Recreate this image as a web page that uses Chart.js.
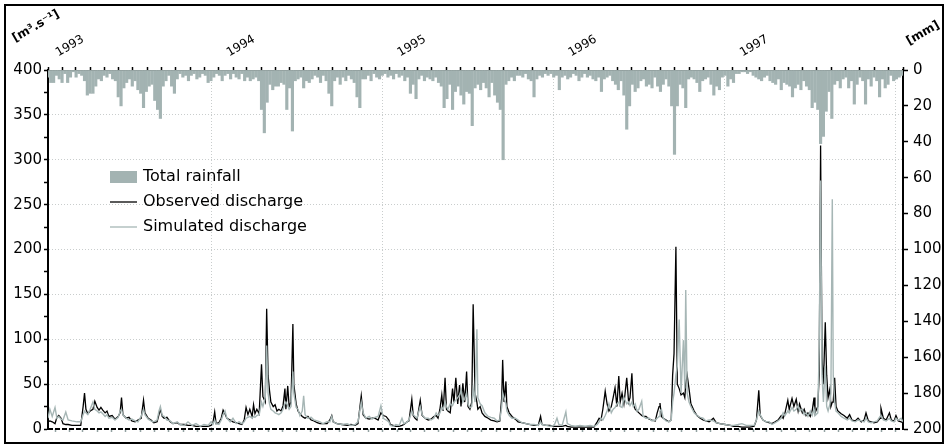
<!DOCTYPE html>
<html>
<head>
<meta charset="utf-8">
<title>Rainfall and discharge 1993-1997</title>
<script src="https://cdn.jsdelivr.net/npm/chart.js@4.4.1/dist/chart.umd.min.js"></script>
<style>
  html, body { margin: 0; padding: 0; background: #fff; }
  #wrap { position: relative; width: 945px; height: 444px; }
  #frame { position: absolute; left: 4px; top: 4px; width: 940px; height: 440px;
           box-sizing: border-box; border: 2px solid #000; pointer-events: none; }
</style>
</head>
<body>
<div id="wrap">
  <canvas id="chart" width="945" height="444"></canvas>
  <div id="frame"></div>
</div>
<script>
// days are counted from 1993-01-01
const DAY_MAX = 1826;
const yearStarts = [0, 365, 730, 1095, 1461, 1826];
const yearLabels = ["1993", "1994", "1995", "1996", "1997"];

// rainfall totals [mm], one value every RAIN_STEP days
const RAIN_STEP = 6;
const rainfall = [
    4, 7, 7, 3, 5, 7, 2, 7, 4, 1, 4, 2, 3, 6, 14, 13, 13, 9, 5, 6,
    3, 4, 2, 5, 6, 15, 20, 10, 7, 5, 9, 6, 11, 13, 21, 12, 9, 8, 17, 22,
    27, 9, 6, 3, 9, 13, 5, 2, 4, 3, 6, 3, 2, 5, 4, 2, 3, 7, 6, 4, 2,
    3, 6, 3, 2, 5, 2, 4, 5, 2, 6, 4, 6, 5, 4, 6, 22, 35, 18, 8,
    11, 9, 9, 7, 8, 22, 10, 34, 6, 5, 4, 10, 6, 7, 5, 3, 4, 7, 3, 6,
    13, 20, 6, 4, 8, 4, 6, 3, 5, 7, 15, 21, 5, 5, 3, 6, 2, 4, 5, 3, 2, 4,
    3, 5, 2, 4, 3, 6, 4, 13, 8, 16, 5, 3, 6, 4, 5, 6, 4, 7,
    9, 21, 16, 8, 22, 12, 9, 14, 19, 12, 13, 31, 10, 8, 11, 7, 10, 15, 7, 14,
    18, 22, 50, 8, 6, 4, 6, 3, 3, 4, 2, 5, 6, 15, 5, 3, 4, 2, 3, 2, 4, 3, 11,
    4, 3, 5, 4, 2, 3, 6, 4, 2, 4, 3, 5, 6, 4, 12, 5, 4,
    3, 6, 8, 11, 6, 14, 33, 20, 8, 12, 10, 6, 5, 9, 8, 10, 4, 9, 12, 8,
    5, 9, 20, 47, 20, 8, 10, 21, 5, 4, 5, 7, 12, 6, 5, 4, 8, 14, 9, 11, 4, 3, 9, 5,
    7, 2, 2, 1, 1, 2, 1, 3, 4, 5, 6, 4, 3, 6, 7, 8,
    5, 11, 7, 8, 9, 15, 10, 8, 11, 6, 9, 11, 21, 18, 22, 41, 37, 23, 12, 27,
    8, 6, 10, 5, 4, 10, 6, 19, 8, 4, 6, 19, 5, 9, 4, 6, 15, 5, 10, 8,
    3, 6, 5, 4, 3
];

// discharge [m3/s] at the listed days
const dischargeDays = [
    0, 4, 9, 15, 19, 23, 28, 32, 38, 43, 51, 62, 70, 75, 78, 81, 85, 90, 96, 100,
    105, 109, 113, 117, 122, 126, 130, 137, 143, 150, 154, 157, 160, 167, 173, 179, 186, 192, 199, 204,
    207, 214, 220, 226, 233, 237, 240, 244, 248, 254, 261, 267, 276, 282, 291, 299, 308, 316, 325, 333,
    342, 348, 352, 356, 359, 365,
    370, 374, 378, 382, 389, 395, 402, 408, 414, 419, 423, 427, 431, 436, 439, 442, 446, 451, 456, 459,
    464, 467, 470, 473, 476, 481, 485, 489, 493, 498, 502, 506, 508, 512, 515, 519, 523, 525, 530, 534,
    538, 543, 546, 549, 555, 562, 568, 575, 581, 587, 596, 602, 606, 609, 617, 628, 639, 647, 656, 662,
    669, 673, 679, 686, 692, 698, 705, 711, 716, 722, 728,
    731, 737, 743, 750, 756, 760, 767, 771, 777, 780, 784, 788, 795, 799, 805, 812, 818, 824, 829, 833,
    837, 841, 844, 848, 851, 854, 859, 864, 867, 871, 875, 879, 882, 886, 890, 894, 897, 901, 905, 908,
    912, 916, 918, 923, 927, 933, 940, 946, 953, 959, 965, 969, 971, 974, 978, 980, 985, 991, 998, 1004,
    1012, 1021, 1030, 1038, 1047, 1052, 1055, 1064, 1072, 1081, 1087, 1091, 1098,
    1106, 1109, 1117, 1126, 1136, 1147, 1158, 1166, 1173, 1177, 1181, 1185, 1190, 1194, 1198, 1203, 1207, 1211, 1215, 1219,
    1222, 1226, 1230, 1236, 1240, 1243, 1247, 1250, 1254, 1258, 1262, 1268, 1271, 1277, 1284, 1290, 1297, 1301, 1305, 1307,
    1310, 1314, 1320, 1326, 1331, 1334, 1337, 1341, 1344, 1348, 1352, 1357, 1360, 1362, 1365, 1369, 1373, 1380, 1386, 1393,
    1399, 1405, 1412, 1421, 1427, 1435, 1446, 1457,
    1465, 1474, 1482, 1491, 1499, 1508, 1513, 1518, 1521, 1527, 1534, 1540, 1546, 1553, 1559, 1566, 1570, 1574, 1580, 1583,
    1589, 1593, 1598, 1602, 1605, 1611, 1615, 1619, 1623, 1628, 1632, 1636, 1638, 1644, 1647, 1650, 1653, 1656, 1660, 1663,
    1666, 1670, 1672, 1675, 1677, 1680, 1683, 1687, 1694, 1700, 1707, 1712, 1717, 1724, 1730, 1737, 1743, 1747, 1752, 1758,
    1764, 1771, 1777, 1779, 1784, 1790, 1797, 1801, 1807, 1811, 1816, 1822, 1826
];
const observed = [
    8, 9, 8, 6, 13, 15, 12, 6, 5, 5, 4, 4, 4, 25, 40, 22, 17, 20, 22, 31,
    24, 21, 24, 21, 18, 20, 14, 15, 11, 14, 18, 35, 16, 12, 13, 9, 8, 10, 12, 32,
    18, 12, 10, 7, 8, 16, 22, 14, 12, 13, 8, 6, 7, 5, 5, 4, 4, 3, 3, 3,
    3, 4, 6, 19, 6, 7,
    12, 21, 17, 12, 10, 8, 7, 6, 5, 10, 24, 16, 22, 14, 27, 17, 22, 17, 72, 36,
    30, 134, 60, 43, 30, 25, 27, 20, 22, 20, 26, 45, 22, 48, 25, 30, 117, 50, 28, 20,
    17, 14, 13, 12, 14, 10, 9, 7, 6, 6, 6, 10, 15, 8, 6, 5, 4, 5, 4, 6,
    37, 16, 12, 11, 12, 12, 10, 18, 15, 14, 10,
    5, 4, 3, 3, 4, 5, 8, 9, 33, 15, 12, 10, 32, 15, 12, 10, 11, 14, 15, 12,
    22, 38, 20, 57, 22, 20, 18, 45, 30, 57, 28, 49, 25, 51, 30, 64, 25, 22, 30, 139,
    40, 30, 22, 25, 18, 14, 12, 10, 9, 8, 9, 35, 77, 30, 53, 25, 18, 14, 11, 8,
    7, 6, 5, 4, 4, 14, 5, 4, 4, 3, 3, 3, 3,
    4, 3, 2, 2, 2, 2, 2, 2, 8, 12, 10, 22, 42, 28, 20, 25, 35, 46, 25, 59,
    30, 40, 28, 57, 30, 35, 62, 28, 22, 20, 18, 15, 14, 14, 11, 10, 9, 18, 25, 29,
    14, 12, 10, 8, 10, 60, 84, 203, 50, 45, 38, 40, 35, 50, 60, 45, 28, 20, 15, 12,
    10, 9, 8, 12, 7, 6, 5, 4,
    3, 3, 2, 2, 2, 3, 10, 43, 15, 10, 8, 7, 6, 8, 10, 15, 12, 18, 32, 22,
    34, 25, 33, 20, 28, 18, 22, 15, 18, 14, 20, 35, 18, 25, 60, 316, 80, 50, 119, 60,
    35, 45, 25, 30, 30, 57, 25, 20, 17, 15, 12, 16, 10, 9, 12, 8, 10, 18, 9, 8,
    7, 8, 12, 23, 12, 10, 18, 10, 9, 15, 9, 8, 7
];
const simulated = [
    12, 22, 14, 24, 12, 14, 11, 10, 19, 10, 9, 8, 8, 16, 20, 18, 16, 22, 30, 22,
    20, 18, 19, 17, 14, 16, 12, 13, 10, 13, 20, 22, 16, 12, 10, 11, 9, 8, 14, 22,
    16, 11, 9, 8, 10, 20, 25, 15, 14, 10, 9, 6, 8, 5, 4, 8, 4, 6, 3, 5,
    4, 8, 5, 10, 6, 5,
    10, 16, 20, 12, 8, 12, 6, 8, 6, 8, 12, 13, 14, 12, 14, 13, 15, 16, 30, 25,
    35, 93, 40, 28, 22, 20, 18, 17, 16, 18, 22, 28, 30, 26, 22, 25, 64, 40, 24, 22,
    15, 20, 37, 16, 12, 13, 10, 9, 8, 6, 8, 8, 14, 8, 6, 5, 6, 4, 5, 8,
    30, 18, 12, 14, 11, 13, 14, 26, 12, 10, 8,
    4, 3, 5, 4, 12, 6, 8, 10, 20, 16, 14, 12, 25, 16, 12, 12, 10, 12, 18, 15,
    18, 24, 22, 30, 25, 22, 28, 26, 30, 32, 35, 38, 43, 30, 34, 40, 28, 24, 25, 45,
    30, 111, 35, 28, 26, 18, 14, 13, 12, 9, 10, 25, 40, 35, 28, 20, 15, 12, 12, 10,
    7, 6, 5, 5, 4, 8, 5, 4, 3, 4, 12, 5, 4,
    19, 6, 4, 3, 4, 3, 4, 3, 5, 8, 12, 10, 15, 20, 28, 18, 22, 24, 28, 30,
    25, 24, 35, 28, 30, 26, 30, 25, 28, 20, 22, 31, 14, 12, 12, 9, 10, 12, 14, 20,
    22, 12, 9, 8, 10, 30, 40, 60, 70, 122, 40, 99, 45, 155, 40, 30, 25, 18, 15, 13,
    12, 9, 10, 9, 7, 6, 5, 4,
    4, 5, 6, 4, 4, 4, 10, 20, 16, 10, 8, 8, 5, 7, 9, 12, 18, 15, 20, 18,
    24, 20, 22, 26, 20, 22, 16, 18, 14, 20, 15, 22, 15, 18, 90, 277, 60, 30, 70, 25,
    20, 28, 40, 256, 60, 30, 20, 18, 14, 12, 10, 12, 9, 8, 10, 9, 8, 12, 8, 7,
    8, 9, 14, 15, 10, 9, 12, 9, 8, 12, 10, 12, 8
];

const FONT = '"DejaVu Sans", Verdana, sans-serif';
const RAIN_COLOR = "#a3b3b2";
const SIM_COLOR = "#a6b6b5";
const GRID_COLOR = "#c9cdcd";
const LABEL_SHIFT = 34; // year labels start a little right of their gridline

Chart.defaults.font.family = FONT;
Chart.defaults.color = "#000";

// first day of every month, used for the small axis ticks
const monthTicks = [];
(function () {
    const t0 = Date.UTC(1993, 0, 1);
    for (let y = 1993; y <= 1997; y++) {
        for (let m = 0; m < 12; m++) {
            monthTicks.push(Math.round((Date.UTC(y, m, 1) - t0) / 864e5));
        }
    }
    monthTicks.push(DAY_MAX);
})();

const decorations = {
    id: "decorations",
    afterDraw(chart) {
        const {ctx, chartArea: a, scales} = chart;
        const y0 = scales.y.getPixelForValue(0);
        ctx.save();

        // dashed zero line
        ctx.strokeStyle = "#000";
        ctx.lineWidth = 2;
        ctx.setLineDash([5, 2]);
        ctx.beginPath();
        ctx.moveTo(a.left, y0);
        ctx.lineTo(a.right, y0);
        ctx.stroke();
        ctx.setLineDash([]);

        // legend inside the plot
        const lx = a.left + 62;
        const rows = [a.top + 107, a.top + 132, a.top + 157];
        ctx.font = "16px " + FONT;
        ctx.textBaseline = "middle";
        ctx.fillStyle = RAIN_COLOR;
        ctx.fillRect(lx, rows[0] - 6, 27, 12);
        ctx.lineWidth = 1.3;
        ctx.strokeStyle = "#000";
        ctx.beginPath();
        ctx.moveTo(lx, rows[1]);
        ctx.lineTo(lx + 27, rows[1]);
        ctx.stroke();
        ctx.strokeStyle = SIM_COLOR;
        ctx.beginPath();
        ctx.moveTo(lx, rows[2]);
        ctx.lineTo(lx + 27, rows[2]);
        ctx.stroke();
        ctx.fillStyle = "#000";
        ctx.fillText("Total rainfall", lx + 33, rows[0]);
        ctx.fillText("Observed discharge", lx + 33, rows[1]);
        ctx.fillText("Simulated discharge", lx + 33, rows[2]);

        // axis units, tilted like the year labels
        ctx.font = "bold 12px " + FONT;
        ctx.textBaseline = "alphabetic";
        const units = [
            ["[m\u00b3.s\u207b\u00b9]", a.left - 33, a.top - 28],
            ["[mm]", a.right + 6, a.top - 25],
        ];
        units.forEach(([text, x, y]) => {
            ctx.save();
            ctx.translate(x, y);
            ctx.rotate(-Math.PI / 6);
            ctx.fillText(text, 0, 0);
            ctx.restore();
        });
        ctx.restore();
    },
};

const rainPoints = rainfall.map((v, i) => ({x: i * RAIN_STEP, y: v}));
const obsPoints = dischargeDays.map((d, i) => ({x: d, y: observed[i]}));
const simPoints = dischargeDays.map((d, i) => ({x: d, y: simulated[i]}));

new Chart(document.getElementById("chart"), {
    type: "line",
    data: {
        datasets: [
            {
                label: "Simulated discharge",
                data: simPoints,
                borderColor: SIM_COLOR,
                borderWidth: 1.4,
                pointRadius: 0,
                tension: 0,
                xAxisID: "x",
                yAxisID: "y",
                order: 0,
            },
            {
                label: "Observed discharge",
                data: obsPoints,
                borderColor: "#000",
                borderWidth: 1.3,
                pointRadius: 0,
                tension: 0,
                xAxisID: "x",
                yAxisID: "y",
                order: 1,
            },
            {
                type: "bar",
                label: "Total rainfall",
                data: rainPoints,
                backgroundColor: RAIN_COLOR,
                borderWidth: 0,
                barThickness: 2.5,
                xAxisID: "x",
                yAxisID: "yR",
                order: 2,
            },
        ],
    },
    options: {
        responsive: false,
        animation: false,
        events: [],
        layout: {padding: 0},
        plugins: {legend: {display: false}, tooltip: {enabled: false}},
        scales: {
            x: {
                type: "linear",
                position: "bottom",
                min: 0,
                max: DAY_MAX,
                offset: false,
                afterBuildTicks: (s) => {
                    s.ticks = monthTicks.map((v) => ({value: v}));
                },
                ticks: {display: false},
                grid: {
                    color: (c) =>
                        c.tick && yearStarts.includes(c.tick.value) ? GRID_COLOR : "transparent",
                    tickColor: "#93a1a1",
                    tickLength: 3,
                    tickWidth: 1.5,
                },
                border: {display: false, dash: [1, 2]},
                afterFit: (s) => {
                    s.height = 15;
                },
            },
            xTicks: {
                type: "linear",
                position: "top",
                min: 0,
                max: DAY_MAX,
                weight: 0,
                afterBuildTicks: (s) => {
                    s.ticks = monthTicks.map((v) => ({value: v}));
                },
                ticks: {display: false},
                grid: {drawOnChartArea: false, tickColor: "#000", tickLength: 3, tickWidth: 1.5},
                border: {color: "#555", width: 1},
                afterFit: (s) => {
                    s.height = 3;
                },
            },
            xTop: {
                type: "linear",
                position: "top",
                min: 0,
                max: DAY_MAX,
                weight: 1,
                afterBuildTicks: (s) => {
                    s.ticks = yearStarts.slice(0, 5).map((v) => ({value: v + LABEL_SHIFT}));
                },
                ticks: {
                    autoSkip: false,
                    minRotation: 30,
                    maxRotation: 30,
                    padding: 7,
                    font: {size: 12},
                    callback: (v, i) => yearLabels[i],
                },
                grid: {display: false, drawTicks: false},
                border: {display: false},
                afterFit: (s) => {
                    s.height = 67;
                },
            },
            y: {
                type: "linear",
                position: "left",
                min: 0,
                max: 400,
                ticks: {
                    stepSize: 25,
                    padding: 2,
                    font: {size: 15},
                    callback: (v) => (v % 50 === 0 ? v : ""),
                },
                grid: {
                    color: (c) =>
                        c.tick && c.tick.value % 50 === 0 && c.tick.value > 0 && c.tick.value < 400
                            ? GRID_COLOR
                            : "transparent",
                    tickColor: "#000",
                    tickLength: 4,
                    tickWidth: 1.5,
                },
                border: {color: "#000", width: 2, dash: [1, 2]},
                afterFit: (s) => {
                    s.width = 48;
                },
            },
            yR: {
                type: "linear",
                position: "right",
                min: 0,
                max: 200,
                reverse: true,
                ticks: {stepSize: 20, padding: 5, font: {size: 15}},
                grid: {drawOnChartArea: false, tickColor: "#000", tickLength: 5, tickWidth: 1.5},
                border: {color: "#000", width: 2},
                afterFit: (s) => {
                    s.width = 42;
                },
            },
        },
    },
    plugins: [decorations],
});
</script>
</body>
</html>
